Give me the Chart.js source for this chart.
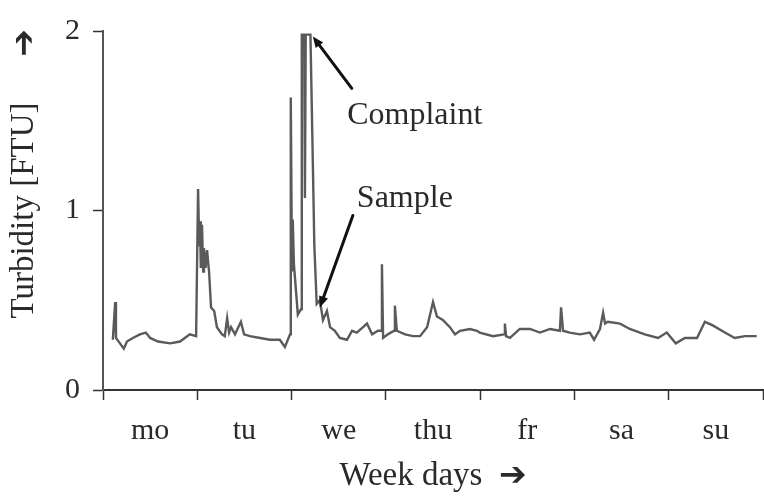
<!DOCTYPE html>
<html>
<head>
<meta charset="utf-8">
<script src="https://cdn.jsdelivr.net/npm/chart.js@4.4.0/dist/chart.umd.min.js"></script>
<style>
  body { margin: 0; background: #fff; }
  #chart { display: block; }
</style>
</head>
<body>
<canvas id="chart" width="764" height="496"></canvas>
<script>
const days = ["mo", "tu", "we", "thu", "fr", "sa", "su"];
const yTicks = [0, 1, 2];

// hours since monday 0:00
const hours = [
  2.5, 3.1, 3.3, 5.3, 6.1, 7.6, 9.4, 10.9, 12.0, 14.0, 17.1, 19.6, 22.1, 23.7,
  24.2, 24.5, 24.7, 24.9, 25.2, 25.5, 25.7, 26.1, 26.5, 26.8, 27.0, 27.5, 28.3,
  29.0, 30.3, 31.0, 31.6, 32.1, 32.6, 33.6, 35.1, 35.9, 37.4, 40.0, 42.5, 45.0,
  46.3, 47.6, 47.8, 48.1, 48.3, 48.6, 49.6, 50.4, 50.6, 51.2, 51.4, 51.6, 52.8,
  53.3, 53.8, 54.4, 55.2, 56.0, 57.0, 57.8, 59.0, 60.3, 62.1, 63.4, 64.6, 66.2,
  67.2, 68.5, 70.0, 70.8, 71.0, 71.3, 72.5, 74.1, 74.3, 74.8, 76.9, 78.9, 80.7,
  82.5, 84.0, 85.0, 86.5, 88.3, 89.6, 90.9, 93.4, 95.2, 95.9, 99.3, 102.1,
  102.3, 102.6, 103.6, 106.1, 108.7, 111.2, 113.8, 116.3, 116.6, 117.1, 118.8,
  121.4, 123.9, 125.0, 126.5, 127.3, 127.8, 128.5, 131.6, 134.1, 137.9, 141.3,
  143.5, 145.8, 148.1, 151.2, 153.2, 155.2, 158.3, 160.8, 163.4, 166.4,
];
const turbidity = [
  0.28, 0.49, 0.29, 0.23, 0.27, 0.29, 0.31, 0.32, 0.29, 0.27, 0.26, 0.27, 0.31, 0.30,
  1.12, 0.80, 0.94, 0.68, 0.92, 0.66, 0.79, 0.68, 0.78, 0.70, 0.66, 0.46, 0.44,
  0.35, 0.31, 0.30, 0.40, 0.32, 0.35, 0.31, 0.38, 0.31, 0.30, 0.29, 0.28, 0.28,
  0.24, 0.31, 1.63, 0.66, 0.95, 0.70, 0.42, 0.45, 1.98, 1.98, 1.07, 1.98, 1.98,
  1.40, 0.80, 0.48, 0.50, 0.39, 0.44, 0.35, 0.33, 0.29, 0.28, 0.33, 0.32, 0.35,
  0.37, 0.31, 0.33, 0.33, 0.70, 0.29, 0.31, 0.33, 0.47, 0.33, 0.31, 0.30, 0.30,
  0.35, 0.49, 0.41, 0.39, 0.35, 0.31, 0.33, 0.34, 0.33, 0.32, 0.30, 0.31,
  0.37, 0.30, 0.29, 0.34, 0.34, 0.32, 0.34, 0.33, 0.46, 0.33, 0.32,
  0.31, 0.32, 0.28, 0.34, 0.43, 0.37, 0.38, 0.37, 0.34, 0.31, 0.29,
  0.32, 0.26, 0.29, 0.29, 0.38, 0.36, 0.32, 0.29, 0.30, 0.30,
];

// annotation labels and the point each arrow points at
const noteLabels = ["Complaint", "Sample"];
const noteHours = [53.4, 55.2];
const noteValues = [1.97, 0.46];

const serif = '"Liberation Serif", "Times New Roman", "DejaVu Sans", serif';
const ink = "#2a2a2a";

const points = hours.map((h, i) => ({ x: h, y: turbidity[i] }));

function drawArrow(ctx, x1, y1, x2, y2) {
  const ang = Math.atan2(y2 - y1, x2 - x1);
  const head = 12;
  ctx.beginPath();
  ctx.moveTo(x1, y1);
  ctx.lineTo(x2 - Math.cos(ang) * head * 0.6, y2 - Math.sin(ang) * head * 0.6);
  ctx.stroke();
  ctx.beginPath();
  ctx.moveTo(x2, y2);
  ctx.lineTo(x2 - head * Math.cos(ang - 0.4), y2 - head * Math.sin(ang - 0.4));
  ctx.lineTo(x2 - head * Math.cos(ang + 0.4), y2 - head * Math.sin(ang + 0.4));
  ctx.closePath();
  ctx.fill();
}

const notesPlugin = {
  id: "notes",
  afterDatasetsDraw(chart) {
    const ctx = chart.ctx;
    const xs = chart.scales.x;
    const ys = chart.scales.y;
    // tail and text offsets relative to the arrow tip
    const tails = [[39, 52], [33, -92]];
    const texts = [[102, 79], [85, -109]];
    ctx.save();
    ctx.strokeStyle = "#111";
    ctx.lineWidth = 3;
    ctx.lineCap = "round";
    noteLabels.forEach((label, i) => {
      const tx = xs.getPixelForValue(noteHours[i]);
      const ty = ys.getPixelForValue(noteValues[i]);
      ctx.fillStyle = "#111";
      drawArrow(ctx, tx + tails[i][0], ty + tails[i][1], tx, ty);
      ctx.fillStyle = ink;
      ctx.font = "32px " + serif;
      ctx.textAlign = "center";
      ctx.textBaseline = "middle";
      ctx.fillText(label, tx + texts[i][0], ty + texts[i][1]);
    });

    // arrow above the y title, same glyph as the x title
    ctx.fillStyle = ink;
    ctx.translate(25, 43);
    ctx.rotate(-Math.PI / 2);
    ctx.font = "33px " + serif;
    ctx.textAlign = "center";
    ctx.textBaseline = "middle";
    ctx.fillText("\u2794", 0, 0);
    ctx.restore();
  },
};

new Chart(document.getElementById("chart"), {
  type: "line",
  data: {
    datasets: [
      {
        data: points,
        borderColor: "#5a5a5a",
        borderWidth: 2.4,
        pointRadius: 0,
        tension: 0,
      },
    ],
  },
  options: {
    responsive: false,
    animation: false,
    layout: { padding: { top: 28, right: 1, left: 0, bottom: 0 } },
    plugins: { legend: { display: false }, tooltip: { enabled: false } },
    scales: {
      x: {
        type: "linear",
        min: 0,
        max: 168,
        afterBuildTicks: (scale) => {
          scale.ticks = [];
          for (let h = 0; h <= 168; h += 12) scale.ticks.push({ value: h });
        },
        afterFit: (scale) => {
          scale.height = 106;
          scale.paddingLeft = 0;
          scale.paddingRight = 0;
        },
        ticks: {
          autoSkip: false,
          maxRotation: 0,
          padding: 13,
          color: ink,
          font: { family: serif, size: 30 },
          callback: (v) => (v % 24 === 12 ? days[(v - 12) / 24] : ""),
        },
        grid: {
          drawOnChartArea: false,
          tickLength: 10,
          tickWidth: 1.5,
          tickColor: (c) => (c.tick && c.tick.value % 24 === 0 ? "#333" : "rgba(0,0,0,0)"),
        },
        border: { color: "#333", width: 2 },
        title: {
          display: true,
          text: "Week days  \u2794",
          color: ink,
          font: { family: serif, size: 33 },
          padding: { top: 0, bottom: 0 },
        },
      },
      y: {
        min: 0,
        max: 2,
        afterBuildTicks: (scale) => {
          scale.ticks = yTicks.map((v) => ({ value: v }));
        },
        afterFit: (scale) => {
          scale.width = 103;
        },
        ticks: {
          padding: 13,
          color: ink,
          font: { family: serif, size: 30 },
        },
        grid: {
          drawOnChartArea: false,
          tickLength: 10,
          tickWidth: 1.5,
          tickColor: "#333",
        },
        border: { color: "#555", width: 2 },
        title: {
          display: true,
          text: "Turbidity [FTU]",
          color: ink,
          font: { family: serif, size: 33 },
          padding: { top: 5, bottom: 0 },
        },
      },
    },
  },
  plugins: [notesPlugin],
});
</script>
</body>
</html>
